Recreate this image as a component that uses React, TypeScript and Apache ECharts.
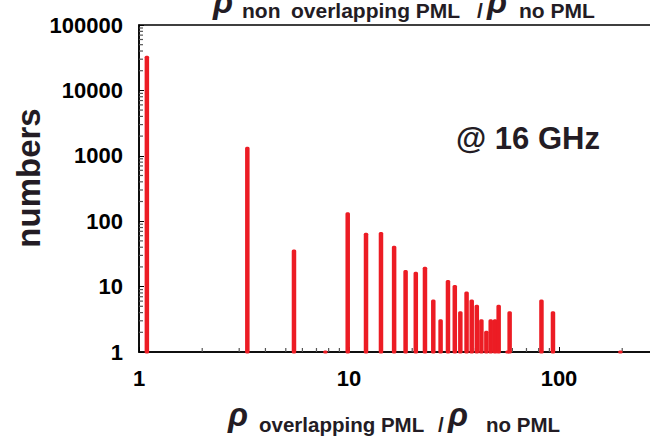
import React, { useEffect, useRef } from 'react';
import * as echarts from 'echarts';

// Ratio rho_overlapping / rho_noPML (x) and number of occurrences (y)
const rhoRatio = [1.09, 3.28, 5.47, 7.72, 9.86, 12.05, 14.2, 16.4, 18.6, 20.8, 23.0, 25.2, 27.3, 29.6, 31.9, 33.9, 36.3, 38.4, 40.6, 42.7, 45.1, 47.3, 49.6, 51.6, 56.8, 58.2, 82.5, 93.6, 196];
const counts = [32000, 1300, 35, 1, 130, 63, 65, 40, 17, 16, 19, 6, 3, 12, 10, 4, 8, 6, 5, 3, 2, 3, 3, 5, 1, 4, 6, 4, 1];

const xMinorTicks = [2, 3, 4, 5, 6, 7, 8, 9, 20, 30, 40, 50, 60, 70, 80, 90, 200, 300, 400, 500, 600, 700, 800, 900];
const yMinorTicks = [2, 3, 4, 5, 6, 7, 8, 9, 20, 30, 40, 50, 60, 70, 80, 90, 200, 300, 400, 500, 600, 700, 800, 900,
  2000, 3000, 4000, 5000, 6000, 7000, 8000, 9000, 20000, 30000, 40000, 50000, 60000, 70000, 80000, 90000];

const titleText = { sub1: 'non', sub2: 'overlapping PML', slash: '/', sub3: 'no PML' };
const xLabelText = { sub1: 'overlapping PML', slash: '/', sub2: 'no PML' };
const yLabelText = 'numbers';
const annotation = '@ 16 GHz';

export default function App() {
  const ref = useRef<HTMLDivElement>(null);
  useEffect(() => {
    const chart = echarts.init(ref.current!, null, { renderer: 'svg' });
    const FONT = "'Liberation Sans', Arial, Helvetica, sans-serif";
    const TEXT = '#231c24';
    const RED = '#ec1c24';
    const fmt = (v: number) => String(Math.round(v));

    const sub = (text: string, x: number, y: number, size: number) => ({
      type: 'text', x, y, silent: true,
      style: { text, fontFamily: FONT, fontSize: size, fontWeight: 'bold', fill: TEXT, align: 'left', verticalAlign: 'middle' },
    });
    const rho = (x: number, y: number) => ({
      type: 'text', x, y, silent: true,
      style: { text: 'ρ', fontFamily: FONT, fontSize: 33, fontWeight: 'bold', fontStyle: 'italic', fill: TEXT, align: 'left', verticalAlign: 'middle' },
    });

    const option: any = {
      animation: false,
      backgroundColor: '#fff',
      grid: {
        left: 139, top: 25, width: 630, height: 327, outerBoundsMode: 'none', containLabel: false,
        show: true, borderColor: '#000', borderWidth: 1.5, backgroundColor: 'transparent',
      },
      xAxis: {
        type: 'log', logBase: 10, min: 1, max: 1000,
        axisLine: { lineStyle: { color: '#000', width: 1.5 } },
        axisTick: { inside: true, length: 5, lineStyle: { color: '#000', width: 1 } },
        axisLabel: { fontFamily: FONT, fontSize: 22, fontWeight: 'bold', color: '#000', margin: 15, formatter: fmt, showMaxLabel: false },
        splitLine: { show: false },
      },
      yAxis: {
        type: 'log', logBase: 10, min: 1, max: 100000,
        axisLine: { lineStyle: { color: '#000', width: 1.5 } },
        axisTick: { inside: true, length: 5, lineStyle: { color: '#000', width: 1 } },
        axisLabel: { fontFamily: FONT, fontSize: 22, fontWeight: 'bold', color: '#000', margin: 16, formatter: fmt },
        splitLine: { show: false },
      },
      series: [
        {
          type: 'custom',
          data: xMinorTicks.map((v) => [v, 1]),
          encode: { x: 0, y: 1 },
          silent: true,
          renderItem: (params: any, api: any) => {
            const p = api.coord([api.value(0), 1]);
            return { type: 'line', shape: { x1: p[0], y1: p[1], x2: p[0], y2: p[1] - 4 }, style: { stroke: '#555', lineWidth: 1.2 } };
          },
        },
        {
          type: 'custom',
          data: yMinorTicks.map((v) => [1, v]),
          encode: { x: 0, y: 1 },
          silent: true,
          renderItem: (params: any, api: any) => {
            const p = api.coord([1, api.value(1)]);
            return { type: 'line', shape: { x1: p[0], y1: p[1], x2: p[0] + 4, y2: p[1] }, style: { stroke: '#555', lineWidth: 1.2 } };
          },
        },
        {
          type: 'custom',
          data: rhoRatio.map((x, i) => [x, counts[i]]),
          encode: { x: 0, y: 1 },
          renderItem: (params: any, api: any) => {
            const x = api.value(0);
            const top = api.coord([x, api.value(1)]);
            const base = api.coord([x, 1]);
            const w = 4.5;
            return {
              type: 'rect',
              shape: { x: top[0] - w / 2, y: top[1] - 1.5, width: w, height: base[1] - top[1] + 3, r: 1.5 },
              style: { fill: RED },
            };
          },
        },
      ],
      graphic: [
        // title (partly cut by the top edge, as in the source figure)
        rho(213, 1),
        sub(titleText.sub1, 242, 10, 21),
        sub(titleText.sub2, 291, 10, 21),
        sub(titleText.slash, 477, 10, 21),
        rho(487, 1),
        sub(titleText.sub3, 519, 10, 21),
        // x axis label
        rho(228, 414),
        sub(xLabelText.sub1, 259, 424, 20.5),
        sub(xLabelText.slash, 438, 424, 20.5),
        rho(448, 414),
        sub(xLabelText.sub2, 486, 424, 20.5),
        // y axis label
        {
          type: 'text', x: 28, y: 178, rotation: Math.PI / 2, silent: true,
          style: { text: yLabelText, fontFamily: FONT, fontSize: 33, fontWeight: 'bold', fill: TEXT, align: 'center', verticalAlign: 'middle' },
        },
        // annotation
        {
          type: 'text', x: 528, y: 138, silent: true,
          style: { text: annotation, fontFamily: FONT, fontSize: 31, fontWeight: 'bold', fill: TEXT, align: 'center', verticalAlign: 'middle' },
        },
      ],
    };
    chart.setOption(option);
    return () => chart.dispose();
  }, []);
  return <div ref={ref} style={{ position: 'absolute', left: 0, top: 0, width: 650, height: 441 }} />;
}
